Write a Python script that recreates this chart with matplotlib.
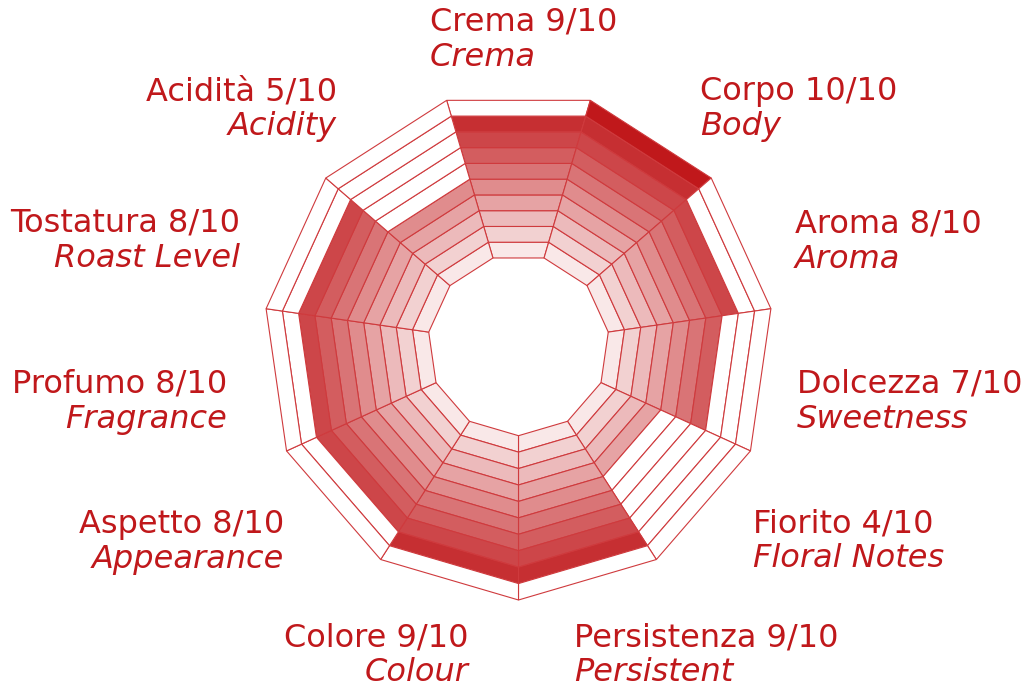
import numpy as np
import matplotlib
matplotlib.use("Agg")
import matplotlib.pyplot as plt
from matplotlib.patches import Polygon

# Données du graphique
labels_it = ['Crema', 'Corpo', 'Aroma', 'Dolcezza', 'Fiorito', 'Persistenza',
             'Colore', 'Aspetto', 'Profumo', 'Tostatura', 'Acidità']
labels_en = ['Crema', 'Body', 'Aroma', 'Sweetness', 'Floral Notes', 'Persistent',
             'Colour', 'Appearance', 'Fragrance', 'Roast Level', 'Acidity']
scores = [9, 10, 8, 7, 4, 9, 9, 8, 8, 8, 5]
max_score = 10

# Mise en page (pixels de l'image : x, ligne de base, alignement)
label_pos = [(430, 31, 'left'), (700, 100, 'left'), (795, 233, 'left'),
             (797, 393, 'left'), (753, 532, 'left'), (574, 646, 'left'),
             (469, 646, 'right'), (284, 533, 'right'), (227, 393, 'right'),
             (240, 232, 'right'), (337, 100, 'right')]

red = np.array([192, 24, 27]) / 255
edge = '#cf3a3d'
text_color = '#c0181b'

W, H = 1024, 694
cx, cy = 518.5, 345
unit = 16.43          # pixels par niveau
r0 = 5.52             # rayon du trou central (en niveaux)

fig = plt.figure(figsize=(W / 100, H / 100), dpi=100)
ax = fig.add_axes([0, 0, 1, 1])
ax.set_xlim(-cx / unit, (W - cx) / unit)
ax.set_ylim(-(H - cy) / unit, cy / unit)
ax.axis('off')

n = len(scores)
step = 2 * np.pi / n


def pt(angle, r):
    # angle mesuré depuis le haut, sens horaire
    return (r * np.sin(angle), r * np.cos(angle))


for i, score in enumerate(scores):
    a1 = i * step - step / 2
    a2 = i * step + step / 2
    for k in range(1, max_score + 1):
        rin = r0 + k - 1
        rout = r0 + k
        if k <= score:
            t = k / max_score
            fc = red * t + (1 - t)
        else:
            fc = 'white'
        poly = Polygon([pt(a1, rin), pt(a1, rout), pt(a2, rout), pt(a2, rin)],
                       closed=True, facecolor=fc, edgecolor=edge, linewidth=0.8,
                       joinstyle='miter')
        ax.add_patch(poly)

# Étiquettes
for i in range(n):
    x, yb, ha = label_pos[i]
    tx = (x - cx) / unit
    ty1 = (cy - yb) / unit
    ty2 = (cy - yb - 35) / unit
    ax.text(tx, ty1, f'{labels_it[i]} {scores[i]}/{max_score}', ha=ha, va='baseline',
            fontsize=23, color=text_color, family='DejaVu Sans')
    ax.text(tx, ty2, labels_en[i], ha=ha, va='baseline', fontsize=23,
            color=text_color, family='DejaVu Sans', style='italic')

fig.savefig('out.png', dpi=100)
